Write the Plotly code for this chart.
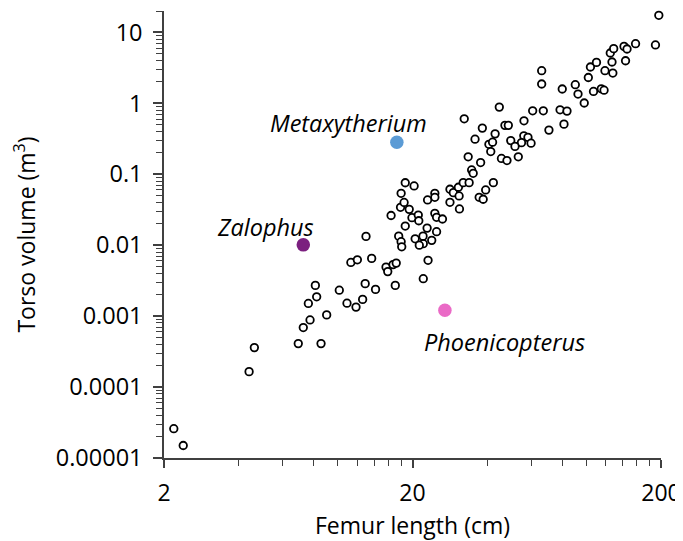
import math
import plotly.graph_objects as go

# Femur length (cm) and torso volume (m^3) for the sample
femur_cm = [2.19, 2.39, 4.40, 4.62, 6.94, 8.57, 7.27, 7.74, 9.03, 7.62,
            8.23, 8.13, 10.15, 10.9, 11.85, 12.6, 12.9, 14.2, 17.05, 11.3,
            12.0, 13.7, 15.65, 15.9, 16.7, 17.2, 13.0, 17.6, 18.0, 18.1,
            18.7, 19.9, 21.1, 21.2, 19.4, 17.9, 16.4, 18.5, 20.5, 22.1,
            21.3, 22.05, 22.9, 23.1, 22.1, 18.7, 20.3, 18.0, 23.0, 24.6,
            24.6, 28.3, 29.2, 30.8, 30.6, 32.0, 33.8, 28.3, 30.9, 24.6,
            25.0, 26.4, 37.1, 38.5, 39.4, 42.3, 25.0, 23.9, 32.3, 38.2,
            43.0, 35.7, 40.6, 42.0, 41.3, 33.5, 37.6, 45.6, 34.6, 35.1,
            44.7, 56.2, 47.1, 48.6, 49.7, 56.1, 58.3, 54.9, 51.7, 60.0,
            48.0, 53.3, 60.9, 67.2, 70.8, 78.5, 83.7, 81.4, 66.2, 66.2,
            80.1, 90.4, 92.7, 98.2, 102, 104, 110, 107, 115, 118,
            119, 128, 125, 129, 127, 142, 146, 144, 158, 190, 196]
torso_m3 = [2.59e-5, 1.50e-5, 1.65e-4, 3.60e-4, 4.10e-4, 4.10e-4, 6.90e-4, 8.84e-4, 1.04e-3, 1.51e-3,
            1.87e-3, 2.71e-3, 2.32e-3, 1.52e-3, 1.34e-3, 1.72e-3, 2.87e-3, 2.38e-3, 2.71e-3, 5.71e-3,
            6.22e-3, 6.51e-3, 4.91e-3, 4.24e-3, 5.32e-3, 5.59e-3, 1.33e-2, 1.34e-2, 1.12e-2, 9.49e-3,
            1.86e-2, 2.44e-2, 2.66e-2, 2.21e-2, 3.20e-2, 3.42e-2, 2.62e-2, 4.00e-2, 1.23e-2, 1.05e-2,
            1.00e-2, 1.34e-2, 1.74e-2, 6.12e-3, 3.37e-3, 7.59e-2, 6.84e-2, 5.39e-2, 4.34e-2, 5.39e-2,
            4.73e-2, 6.14e-2, 5.50e-2, 4.94e-2, 6.55e-2, 7.61e-2, 7.61e-2, 4.02e-2, 3.24e-2, 2.81e-2,
            2.47e-2, 2.34e-2, 4.73e-2, 4.44e-2, 6.00e-2, 7.61e-2, 1.55e-2, 1.17e-2, 0.604, 0.447,
            0.371, 0.312, 0.264, 0.283, 0.209, 0.176, 0.146, 0.167, 0.115, 0.103,
            0.884, 0.566, 0.489, 0.489, 0.298, 0.348, 0.331, 0.279, 0.247, 0.274,
            0.156, 0.176, 0.784, 0.784, 0.419, 0.809, 0.776, 0.508, 2.88, 1.87,
            1.59, 1.83, 1.35, 1.01, 2.31, 3.25, 3.77, 1.47, 1.60, 1.53,
            2.88, 2.67, 5.12, 5.89, 3.82, 6.34, 5.83, 3.98, 6.92, 6.64, 17.4]

# Highlighted taxa
special_names = ["Metaxytherium", "Zalophus", "Phoenicopterus"]
special_femur = [17.3, 7.27, 27.0]
special_torso = [0.283, 0.0101, 0.00121]
special_colors = ["#5B9BD5", "#7B1F7F", "#EA6AC6"]

x_ticks = [2, 20, 200]
x_ticktext = ["2", "20", "200"]
y_ticks = [1e-5, 1e-4, 1e-3, 1e-2, 1e-1, 1, 10]
y_ticktext = ["0.00001", "0.0001", "0.001", "0.01", "0.1", "1", "10"]
x_minor = [4, 6, 8, 10, 12, 14, 16, 18, 40, 60, 80, 100, 120, 140, 160, 180]
y_minor = [k * 10.0 ** e for e in range(-5, 2) for k in range(2, 10) if k * 10.0 ** e <= 20]

FONT = "Open Sans"
AX = "#404040"

fig = go.Figure()
fig.add_trace(go.Scatter(
    x=femur_cm, y=torso_m3, mode="markers",
    marker=dict(symbol="circle", size=7.5, color="white",
                line=dict(color="black", width=1.8)),
    showlegend=False, cliponaxis=False,
))
fig.add_trace(go.Scatter(
    x=special_femur, y=special_torso, mode="markers",
    marker=dict(symbol="circle", size=13.5, color=special_colors, line=dict(width=0)),
    showlegend=False, cliponaxis=False,
))

# label offsets (px) from each highlighted point
shifts = [(-48, 19), (-38, 18), (60, -32)]
for name, fx, ty, (dx, dy) in zip(special_names, special_femur, special_torso, shifts):
    fig.add_annotation(x=math.log10(fx), y=math.log10(ty), xref="x", yref="y",
                       text=f"<i>{name}</i>", showarrow=False,
                       xshift=dx, yshift=dy, xanchor="center", yanchor="middle",
                       font=dict(family=FONT, size=23.5, color="black"))

fig.update_xaxes(
    type="log", range=[math.log10(2), math.log10(200)],
    tickmode="array", tickvals=x_ticks, ticktext=x_ticktext,
    ticks="outside", ticklen=8, tickwidth=1.5, tickcolor=AX,
    showline=True, linecolor=AX, linewidth=1.5,
    showgrid=False, zeroline=False,
    minor=dict(tickmode="array", tickvals=x_minor, ticks="outside",
               ticklen=6, tickwidth=1.2, tickcolor=AX, showgrid=False),
    tickfont=dict(family=FONT, size=23, color="black"),
    ticklabelstandoff=6,
    title=dict(text="Femur length (cm)", font=dict(family=FONT, size=23, color="black"),
               standoff=15),
)
fig.update_yaxes(
    type="log", range=[-5, math.log10(20)],
    tickmode="array", tickvals=y_ticks, ticktext=y_ticktext,
    ticks="outside", ticklen=9, tickwidth=1.5, tickcolor=AX,
    showline=True, linecolor=AX, linewidth=1.5,
    showgrid=False, zeroline=False,
    minor=dict(tickmode="array", tickvals=y_minor, ticks="outside",
               ticklen=6, tickwidth=1.2, tickcolor=AX, showgrid=False),
    tickfont=dict(family=FONT, size=23.5, color="black"),
    ticklabelstandoff=6,
    title=dict(text="Torso volume (m<sup>3</sup>)", font=dict(family=FONT, size=23, color="black"),
               standoff=16),
)
# the page body adds an 8 px offset, so the figure is sized to the remaining view
fig.update_layout(
    width=675, height=533,
    margin=dict(l=156, r=22, t=3, b=83, autoexpand=False),
    plot_bgcolor="white", paper_bgcolor="white",
    font=dict(family=FONT, color="black"),
)
fig.write_html("out.html")
